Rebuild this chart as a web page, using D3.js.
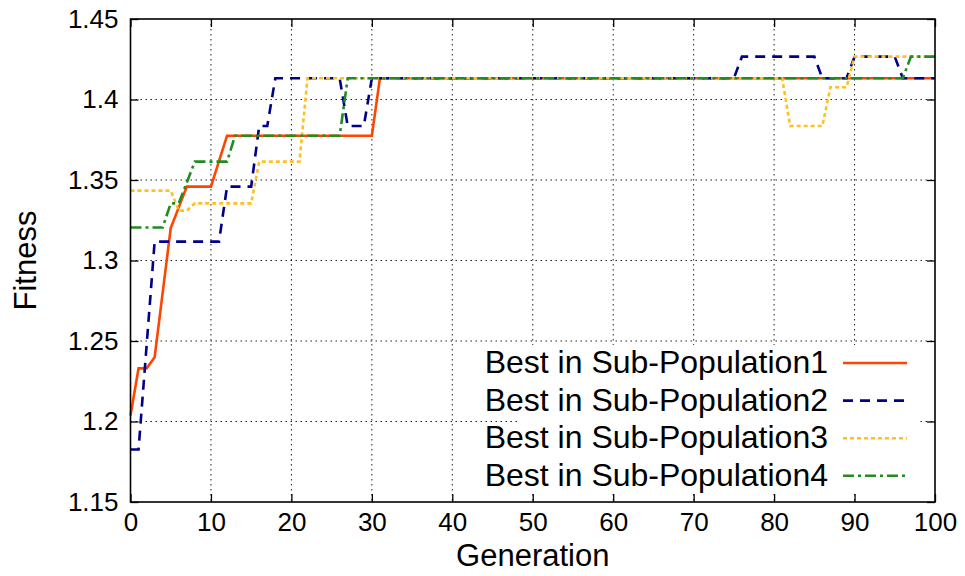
<!DOCTYPE html>
<html>
<head>
<meta charset="utf-8">
<script src="https://cdn.jsdelivr.net/npm/d3@7"></script>
<style>
  body { margin: 0; background: #fff; }
  svg { display: block; font-family: "Liberation Sans", Arial, sans-serif; }
</style>
</head>
<body>
<div id="root"></div>
<script>
// generation index 0..100
const generations = d3.range(0, 101);

// best fitness per generation
const subPop1 = [
  1.2037, 1.233, 1.233, 1.2399, 1.28, 1.3202, 1.333, 1.3459, 1.3459, 1.3459,
  1.3459, 1.3617, 1.3775, 1.3775, 1.3775, 1.3775, 1.3775, 1.3775, 1.3775, 1.3775,
  1.3775, 1.3775, 1.3775, 1.3775, 1.3775, 1.3775, 1.3775, 1.3775, 1.3775, 1.3775,
  1.3775, 1.4132, 1.4132, 1.4132, 1.4132, 1.4132, 1.4132, 1.4132, 1.4132, 1.4132,
  1.4132, 1.4132, 1.4132, 1.4132, 1.4132, 1.4132, 1.4132, 1.4132, 1.4132, 1.4132,
  1.4132, 1.4132, 1.4132, 1.4132, 1.4132, 1.4132, 1.4132, 1.4132, 1.4132, 1.4132,
  1.4132, 1.4132, 1.4132, 1.4132, 1.4132, 1.4132, 1.4132, 1.4132, 1.4132, 1.4132,
  1.4132, 1.4132, 1.4132, 1.4132, 1.4132, 1.4132, 1.4132, 1.4132, 1.4132, 1.4132,
  1.4132, 1.4132, 1.4132, 1.4132, 1.4132, 1.4132, 1.4132, 1.4132, 1.4132, 1.4132,
  1.4132, 1.4132, 1.4132, 1.4132, 1.4132, 1.4132, 1.4132, 1.4132, 1.4132, 1.4132,
  1.4132
];

const subPop2 = [
  1.1826, 1.1826, 1.247, 1.3117, 1.3117, 1.3117, 1.3117, 1.3117, 1.3117, 1.3117,
  1.3117, 1.3117, 1.3459, 1.3459, 1.3459, 1.3459, 1.3835, 1.3835, 1.4132, 1.4132,
  1.4132, 1.4132, 1.4132, 1.4132, 1.4132, 1.4132, 1.4132, 1.3835, 1.3835, 1.3835,
  1.4132, 1.4132, 1.4132, 1.4132, 1.4132, 1.4132, 1.4132, 1.4132, 1.4132, 1.4132,
  1.4132, 1.4132, 1.4132, 1.4132, 1.4132, 1.4132, 1.4132, 1.4132, 1.4132, 1.4132,
  1.4132, 1.4132, 1.4132, 1.4132, 1.4132, 1.4132, 1.4132, 1.4132, 1.4132, 1.4132,
  1.4132, 1.4132, 1.4132, 1.4132, 1.4132, 1.4132, 1.4132, 1.4132, 1.4132, 1.4132,
  1.4132, 1.4132, 1.4132, 1.4132, 1.4132, 1.4132, 1.4266, 1.4266, 1.4266, 1.4266,
  1.4266, 1.4266, 1.4266, 1.4266, 1.4266, 1.4266, 1.4132, 1.4132, 1.4132, 1.4132,
  1.4266, 1.4266, 1.4266, 1.4266, 1.4266, 1.4266, 1.4132, 1.4132, 1.4132, 1.4132,
  1.4132
];

const subPop3 = [
  1.3434, 1.3434, 1.3434, 1.3434, 1.3434, 1.3434, 1.331, 1.331, 1.3355, 1.3355,
  1.3355, 1.3355, 1.3355, 1.3355, 1.3355, 1.3355, 1.3614, 1.3614, 1.3614, 1.3614,
  1.3614, 1.3614, 1.4132, 1.4132, 1.4132, 1.4132, 1.4132, 1.4132, 1.4132, 1.4132,
  1.4132, 1.4132, 1.4132, 1.4132, 1.4132, 1.4132, 1.4132, 1.4132, 1.4132, 1.4132,
  1.4132, 1.4132, 1.4132, 1.4132, 1.4132, 1.4132, 1.4132, 1.4132, 1.4132, 1.4132,
  1.4132, 1.4132, 1.4132, 1.4132, 1.4132, 1.4132, 1.4132, 1.4132, 1.4132, 1.4132,
  1.4132, 1.4132, 1.4132, 1.4132, 1.4132, 1.4132, 1.4132, 1.4132, 1.4132, 1.4132,
  1.4132, 1.4132, 1.4132, 1.4132, 1.4132, 1.4132, 1.4132, 1.4132, 1.4132, 1.4132,
  1.4132, 1.4132, 1.3835, 1.3835, 1.3835, 1.3835, 1.3835, 1.4076, 1.4076, 1.4076,
  1.4266, 1.4266, 1.4266, 1.4266, 1.4266, 1.4266, 1.4266, 1.4266, 1.4266, 1.4266,
  1.4266
];

const subPop4 = [
  1.3205, 1.3205, 1.3205, 1.3205, 1.3205, 1.3355, 1.3355, 1.3485, 1.3614, 1.3614,
  1.3614, 1.3614, 1.3614, 1.3775, 1.3775, 1.3775, 1.3775, 1.3775, 1.3775, 1.3775,
  1.3775, 1.3775, 1.3775, 1.3775, 1.3775, 1.3775, 1.3775, 1.4132, 1.4132, 1.4132,
  1.4132, 1.4132, 1.4132, 1.4132, 1.4132, 1.4132, 1.4132, 1.4132, 1.4132, 1.4132,
  1.4132, 1.4132, 1.4132, 1.4132, 1.4132, 1.4132, 1.4132, 1.4132, 1.4132, 1.4132,
  1.4132, 1.4132, 1.4132, 1.4132, 1.4132, 1.4132, 1.4132, 1.4132, 1.4132, 1.4132,
  1.4132, 1.4132, 1.4132, 1.4132, 1.4132, 1.4132, 1.4132, 1.4132, 1.4132, 1.4132,
  1.4132, 1.4132, 1.4132, 1.4132, 1.4132, 1.4132, 1.4132, 1.4132, 1.4132, 1.4132,
  1.4132, 1.4132, 1.4132, 1.4132, 1.4132, 1.4132, 1.4132, 1.4132, 1.4132, 1.4132,
  1.4132, 1.4132, 1.4132, 1.4132, 1.4132, 1.4132, 1.4132, 1.4266, 1.4266, 1.4266,
  1.4266
];

const seriesNames = ['Best in Sub-Population1', 'Best in Sub-Population2', 'Best in Sub-Population3', 'Best in Sub-Population4'];
const xTicks = [0, 10, 20, 30, 40, 50, 60, 70, 80, 90, 100];
const yTicks = [1.15, 1.2, 1.25, 1.3, 1.35, 1.4, 1.45];

// one style per series (gnuplot-like dash types)
const seriesStyles = [
  { color: '#ff4500', dash: null },
  { color: '#00008b', dash: '10,7' },
  { color: '#ffc020', dash: '4,3' },
  { color: '#228b22', dash: '11,4,3,4' }
];

let width = 965,
    height = 576,
    margin = { top: 19, right: 30, bottom: 74, left: 130.5 },
    plotWidth = width - margin.left - margin.right,
    plotHeight = height - margin.top - margin.bottom;

let svg = d3.select('#root')
    .append('svg')
    .attr('width', width)
    .attr('height', height);

svg.append('rect').attr('width', width).attr('height', height).attr('fill', '#fff');

let plot = svg.append('g')
    .attr('transform', 'translate(' + margin.left + ',' + margin.top + ')');

let x = d3.scaleLinear().domain([0, 100]).range([0, plotWidth]),
    y = d3.scaleLinear().domain([1.15, 1.45]).range([plotHeight, 0]);

// dotted grid
let grid = plot.append('g').attr('class', 'grid')
    .attr('stroke', '#222').attr('stroke-width', 1).attr('stroke-dasharray', '1.5,3.5');

grid.selectAll('.vgrid')
    .data(xTicks.slice(1, -1))
    .enter().append('line')
    .attr('x1', d => x(d)).attr('x2', d => x(d))
    .attr('y1', 0).attr('y2', plotHeight);

grid.selectAll('.hgrid')
    .data(yTicks.slice(1, -1))
    .enter().append('line')
    .attr('x1', 0).attr('x2', plotWidth)
    .attr('y1', d => y(d)).attr('y2', d => y(d));

// axes with inward ticks, mirrored on top / right
let fmt = d => String(+d.toFixed(2));

plot.append('g')
    .attr('transform', 'translate(0,' + plotHeight + ')')
    .call(d3.axisBottom(x).tickValues(xTicks).tickSize(-8).tickPadding(11).tickFormat(fmt));

plot.append('g')
    .call(d3.axisLeft(y).tickValues(yTicks).tickSize(-8).tickPadding(12).tickFormat(fmt));

plot.append('g')
    .call(d3.axisTop(x).tickValues(xTicks).tickSize(-8).tickFormat(''));

plot.append('g')
    .attr('transform', 'translate(' + plotWidth + ',0)')
    .call(d3.axisRight(y).tickValues(yTicks).tickSize(-8).tickFormat(''));

plot.selectAll('.domain').remove();
plot.selectAll('.tick line').attr('stroke', '#000').attr('stroke-width', 1.3);
plot.selectAll('.tick text')
    .attr('fill', '#000')
    .style('font-size', '26px')
    .style('font-family', '"Liberation Sans", Arial, sans-serif');

// legend background hides the grid behind the key
let legend = plot.append('g')
    .attr('transform', 'translate(' + (517 - margin.left) + ',' + (345 - margin.top) + ')');

legend.append('rect')
    .attr('width', 403)
    .attr('height', 148)
    .attr('fill', '#fff');

let line = d3.line()
    .x((d, i) => x(generations[i]))
    .y(d => y(d));

let allSeries = [subPop1, subPop2, subPop3, subPop4];

plot.append('g')
    .selectAll('.series')
    .data(allSeries)
    .enter()
    .append('path')
    .attr('class', 'series')
    .attr('fill', 'none')
    .attr('stroke', (d, i) => seriesStyles[i].color)
    .attr('stroke-width', 2.6)
    .attr('stroke-dasharray', (d, i) => seriesStyles[i].dash)
    .attr('d', line);

// legend rows: text right-aligned, sample line after it
let rows = legend.selectAll('.row')
    .data(seriesNames)
    .enter()
    .append('g')
    .attr('transform', (d, i) => 'translate(0,' + (18 + i * 37.6) + ')');

rows.append('text')
    .attr('x', 828 - 517)
    .attr('y', 10)
    .attr('text-anchor', 'end')
    .style('font-size', '32px')
    .text(d => d);

rows.append('line')
    .attr('x1', 843 - 517).attr('x2', 907 - 517)
    .attr('y1', 0).attr('y2', 0)
    .attr('stroke', (d, i) => seriesStyles[i].color)
    .attr('stroke-width', 2.6)
    .attr('stroke-dasharray', (d, i) => seriesStyles[i].dash);

// frame
plot.append('rect')
    .attr('width', plotWidth)
    .attr('height', plotHeight)
    .attr('fill', 'none')
    .attr('stroke', '#000')
    .attr('stroke-width', 1.6);

// axis titles
svg.append('text')
    .attr('x', margin.left + plotWidth / 2)
    .attr('y', 566)
    .attr('text-anchor', 'middle')
    .style('font-size', '31px')
    .text('Generation');

svg.append('text')
    .attr('transform', 'translate(36,' + (margin.top + plotHeight / 2) + ') rotate(-90)')
    .attr('text-anchor', 'middle')
    .style('font-size', '31px')
    .text('Fitness');
</script>
</body>
</html>
